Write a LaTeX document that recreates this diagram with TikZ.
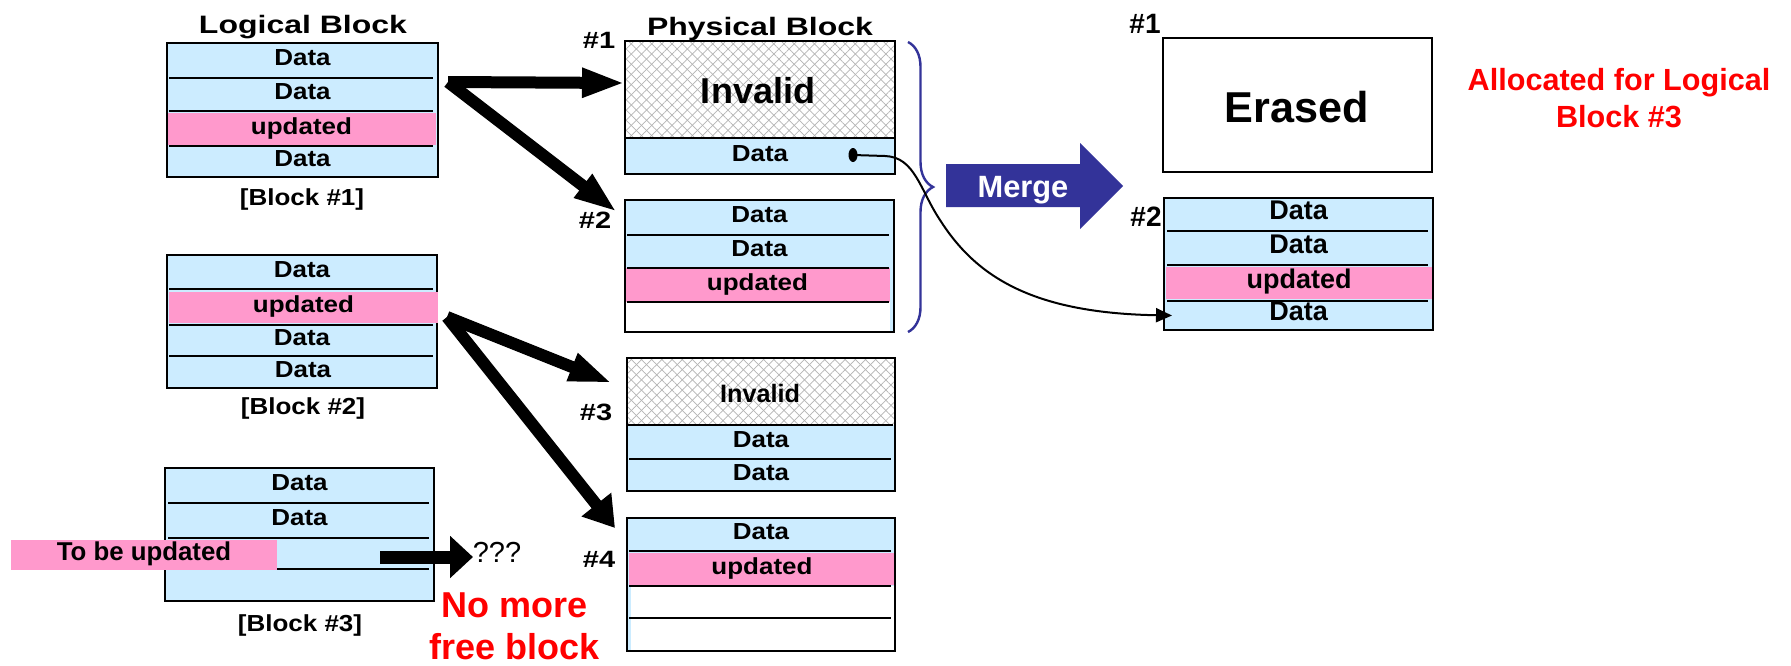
\documentclass[tikz,border=0pt]{standalone}
\usepackage{fontspec}
\setmainfont{Liberation Sans}
\newfontfamily\widesf{Liberation Sans}[FakeStretch=1.23]
\newfontfamily\headsf{Liberation Sans}[FakeStretch=1.27]
\newfontfamily\cellsf{Liberation Sans}[FakeStretch=1.12]
\usetikzlibrary{arrows.meta,patterns.meta,decorations.pathreplacing,shapes.geometric,fit}

\definecolor{cellblue}{HTML}{CCECFF}
\definecolor{cellpink}{HTML}{FF99CC}
\definecolor{mergeblue}{HTML}{333399}
\definecolor{hatchgray}{HTML}{B4B4B4}
\definecolor{alertred}{HTML}{FF0000}

\newcommand\fsz[1]{\fontsize{#1}{#1}\selectfont}
% one row of a block: name, x1, y1, x2, y2, options, text
\newcommand\cellrow[7]{%
  \node[cell,#6,minimum width={(#4-(#2))*0.5pt},minimum height={(#5-(#3))*0.5pt}]
    (#1) at ({(#2+#4)/2},{(#3+#5)/2}) {#7};}

\tikzset{
  blockbg/.style={inner sep=0pt,outer sep=0pt,fill=cellblue},
  blankbg/.style={inner sep=0pt,outer sep=0pt,fill=white},
  outline/.style={draw=black,line width=1pt},
  divider/.style={draw=black,line width=0.9pt},
  cell/.style={inner sep=0pt,outer sep=0pt,text height=0.72em,text depth=0.21em},
  ltxt/.style={font=\cellsf\bfseries\fsz{11.6}},
  rtxt/.style={font=\bfseries\fsz{13.5}},
  heading/.style={anchor=base,font=\headsf\bfseries\fsz{12.6}},
  caption/.style={anchor=base,font=\cellsf\bfseries\fsz{11.6}},
  lnum/.style={anchor=base,font=\widesf\bfseries\fsz{11.8}},
  rnum/.style={anchor=base,font=\bfseries\fsz{14}},
  alert/.style={anchor=base,text=alertred},
  hatchA/.style={pattern={Lines[angle=45,distance=3.6pt,line width=0.35pt]},pattern color=hatchgray},
  hatchB/.style={pattern={Lines[angle=-45,distance=3.6pt,line width=0.35pt]},pattern color=hatchgray},
  fatarrow/.style={line width=6pt,-{Triangle[length=21.5pt,width=13.5pt]}},
}

\begin{document}
\begin{tikzpicture}[x=0.5pt,y=-0.5pt]
\path[use as bounding box,fill=white] (0,0) rectangle (1791,665);

% ---------------- logical blocks ----------------
\node[heading] (lbtitle) at (303,33) {Logical Block};

% block #1
\node[blockbg,fit={(167,43) (438,177)}] (lb1) {};
\cellrow{lb1a}{167}{43}{438}{78}{ltxt}{Data}
\cellrow{lb1b}{167}{78}{438}{111}{ltxt}{Data}
\cellrow{lb1c}{167}{113}{436}{145}{ltxt,fill=cellpink}{updated}
\cellrow{lb1d}{167}{146}{438}{177}{ltxt}{Data}
\draw[divider] (169,78) -- (433,78) (169,111) -- (433,111) (169,146) -- (433,146);
\draw[outline] (lb1.north west) rectangle (lb1.south east);
\node[caption] (lb1cap) at (302,205) {[Block \#1]};

% block #2
\node[blockbg,fit={(167,255) (437,388)}] (lb2) {};
\cellrow{lb2a}{167}{255}{437}{289}{ltxt}{Data}
\cellrow{lb2c}{169}{356}{437}{388}{ltxt}{Data}
\cellrow{lb2b}{167}{325}{437}{356}{ltxt}{Data}
\draw[divider] (169,289) -- (433,289) (169,325) -- (433,325) (169,356) -- (433,356);
\draw[outline] (lb2.north west) rectangle (lb2.south east);
\cellrow{lb2u}{169}{292}{438}{323}{ltxt,fill=cellpink}{updated}
\node[caption] (lb2cap) at (303,414) {[Block \#2]};

% block #3
\node[blockbg,fit={(165,468) (434,601)}] (lb3) {};
\cellrow{lb3a}{165}{468}{434}{503}{ltxt}{Data}
\cellrow{lb3b}{165}{503}{434}{538}{ltxt}{Data}
\draw[divider] (168,503) -- (429,503) (168,538) -- (429,538) (168,569) -- (429,569);
\draw[outline] (lb3.north west) rectangle (lb3.south east);
\node[caption] (lb3cap) at (300,631) {[Block \#3]};
\cellrow{tbu}{11}{540}{277}{570}{fill=cellpink,font=\bfseries\fsz{12.9}}{To be updated}

% ---------------- physical blocks ----------------
\node[heading] (pbtitle) at (760,35) {Physical Block};

% block #1 : invalid page on top
\node[blankbg,fit={(625,41) (895,174)}] (pb1) {};
\fill[hatchA] (625,41) rectangle (895,138);
\fill[hatchB] (625,41) rectangle (895,138);
\node[anchor=base,font=\bfseries\fsz{18}] (pb1inv) at (758,103) {Invalid};
\cellrow{pb1a}{625}{138}{895}{174}{ltxt,fill=cellblue}{Data}
\draw[divider] (625,138) -- (895,138);
\draw[outline] (pb1.north west) rectangle (pb1.south east);
\node[lnum] (pb1num) at (599,48) {\#1};

% block #2
\node[blockbg,fit={(625,200) (894,332)}] (pb2) {};
\cellrow{pb2a}{625}{200}{894}{235}{ltxt}{Data}
\cellrow{pb2b}{625}{235}{894}{268}{ltxt}{Data}
\cellrow{pb2c}{625}{268}{890}{302}{ltxt,fill=cellpink}{updated}
\cellrow{pb2d}{625}{302}{890}{332}{fill=white}{}
\draw[divider] (627,235) -- (889,235) (627,268) -- (889,268) (627,302) -- (889,302);
\draw[outline] (pb2.north west) rectangle (pb2.south east);
\node[lnum] (pb2num) at (595,228) {\#2};

% block #3
\node[blockbg,fit={(627,358) (895,491)}] (pb3) {};
\fill[white] (627,358) rectangle (895,425);
\fill[hatchA] (627,358) rectangle (895,425);
\fill[hatchB] (627,358) rectangle (895,425);
\node[anchor=base,font=\bfseries\fsz{12.6}] (pb3inv) at (760,402) {Invalid};
\cellrow{pb3a}{627}{425}{895}{459}{ltxt}{Data}
\cellrow{pb3b}{627}{459}{895}{491}{ltxt}{Data}
\draw[divider] (627,425) -- (893,425) (629,459) -- (891,459);
\draw[outline] (pb3.north west) rectangle (pb3.south east);
\node[lnum] (pb3num) at (596,420) {\#3};

% block #4
\node[blockbg,fit={(627,518) (895,651)}] (pb4) {};
\cellrow{pb4a}{627}{518}{895}{551}{ltxt}{Data}
\cellrow{pb4b}{629}{553}{895}{585}{ltxt,fill=cellpink}{updated}
\cellrow{pb4c}{631}{586}{895}{618}{fill=white}{}
\cellrow{pb4d}{631}{618}{895}{651}{fill=white}{}
\draw[divider] (629,551) -- (891,551) (629,586) -- (891,586) (629,618) -- (891,618);
\draw[outline] (pb4.north west) rectangle (pb4.south east);
\node[lnum] (pb4num) at (599,567) {\#4};

% ---------------- writes from logical to physical ----------------
\coordinate (w1) at (448,82);
\coordinate (w2) at (447,317);
\coordinate (t1) at (625,83);
\coordinate (t2) at (617,212);
\coordinate (t3) at (612,383);
\coordinate (t4) at (615,528);
\draw[fatarrow] (w1) -- (t1);
\draw[fatarrow] (w1) -- (t2);
\draw[fatarrow] (w2) -- (t3);
\draw[line width=6pt,-{Triangle[length=15pt,width=18pt]}] (w2) -- (t4);

% block #3 cannot be written
\coordinate (q0) at (380,557);
\coordinate (q1) at (473,557);
\draw[line width=6.5pt,-{Triangle[length=11.5pt,width=20.5pt]}] (q0) -- (q1);
\node[anchor=base,font=\fsz{14.5}] (qq) at (497,562) {???};
\node[alert,font=\bfseries\fsz{18}] (nofree1) at (515,617) {No more};
\node[alert,font=\bfseries\fsz{18}] (nofree2) at (515,659) {free block};

% ---------------- merge ----------------
\draw[mergeblue,line width=1.2pt,decorate,decoration={brace,amplitude=12.5pt}] (908,42) -- (908,332);
\fill[mergeblue] (946,164) -- (1080,164) -- (1080,143) -- (1123,186) -- (1080,229) -- (1080,207) -- (946,207) -- cycle;
\node[anchor=base,text=white,font=\bfseries\fsz{15.4}] (merge) at (1023,197) {Merge};

% erased block
\node[blankbg,outline,fit={(1163,38) (1432,172)}] (rb1) {};
\node[anchor=base,font=\bfseries\fsz{21.6}] (erased) at (1297,122) {Erased};
\node[rnum] (rb1num) at (1145,33) {\#1};

% merged block
\node[blockbg,fit={(1164,198) (1433,330)}] (rb2) {};
\cellrow{rb2a}{1164}{198}{1433}{231}{rtxt}{Data}
\cellrow{rb2b}{1164}{231}{1433}{265}{rtxt}{Data}
\cellrow{rb2c}{1166}{267}{1432}{299}{rtxt,fill=cellpink}{updated}
\cellrow{rb2d}{1164}{301}{1433}{330}{rtxt}{Data}
\draw[divider] (1167,231) -- (1428,231) (1167,265) -- (1428,265) (1167,301) -- (1428,301);
\draw[outline] (rb2.north west) rectangle (rb2.south east);
\node[rnum] (rb2num) at (1146,226) {\#2};

\node[alert,font=\bfseries\fsz{15.3}] (alloc1) at (1619,90) {Allocated for Logical};
\node[alert,font=\bfseries\fsz{15.3}] (alloc2) at (1619,127) {Block \#3};

% valid page copied into the merged block
\node[ellipse,fill=black,inner sep=0pt,minimum width=4.5pt,minimum height=7pt] (dot) at (853,155) {};
\draw[line width=1pt,-{Triangle[length=8pt,width=7pt]}]
  (dot.center) -- (885,156) .. controls (915,157) and (920,190) .. (940,220)
  .. controls (975,275) and (1030,313) .. ([xshift=4pt]rb2d.west);
\end{tikzpicture}
\end{document}
